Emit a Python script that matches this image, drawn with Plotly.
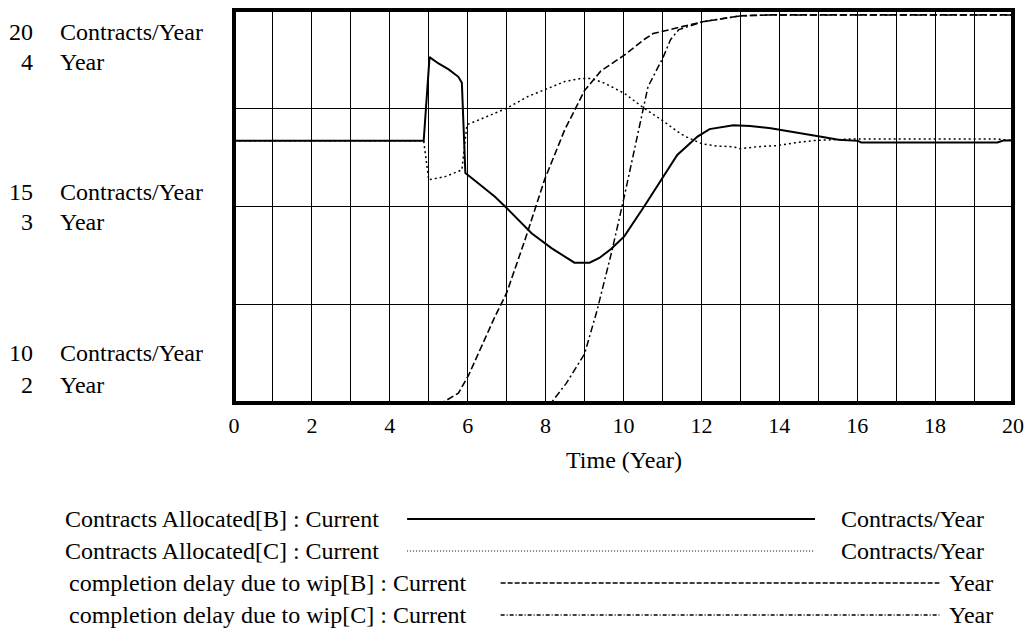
import plotly.graph_objects as go

# ---------------- data ----------------
time_b = [0, 4.87, 5.02, 5.25, 5.51, 5.76, 5.85, 5.94, 6.27, 6.70, 7.0, 7.64, 8.15, 8.74,
          9.13, 9.38, 9.68, 10.02, 10.53, 10.96, 11.38, 11.9, 12.21, 12.82, 13.25, 13.78,
          14.3, 14.7, 15.04, 15.52, 16.02, 16.1, 19.6, 19.75, 20]
alloc_b = [16.67, 16.67, 18.80, 18.64, 18.49, 18.30, 18.15, 15.85, 15.59, 15.25, 14.96,
           14.32, 13.94, 13.57, 13.57, 13.69, 13.92, 14.24, 15.0, 15.68, 16.31, 16.78,
           16.97, 17.07, 17.05, 16.99, 16.91, 16.84, 16.78, 16.70, 16.67, 16.63, 16.63,
           16.68, 16.68]

time_c = [0, 4.87, 5.0, 5.42, 5.85, 5.98, 6.28, 7.0, 7.55, 7.98, 8.49, 8.91, 9.17, 9.51,
          10.02, 10.53, 11.04, 11.38, 11.59, 12.03, 12.38, 12.82, 12.99, 13.43, 13.95,
          14.4, 14.9, 15.88, 19.6, 19.8, 20]
alloc_c = [16.67, 16.67, 15.68, 15.76, 15.93, 17.08, 17.20, 17.50, 17.80, 17.97, 18.18,
           18.26, 18.26, 18.14, 17.88, 17.50, 17.16, 16.91, 16.78, 16.59, 16.54, 16.52,
           16.47, 16.52, 16.55, 16.62, 16.68, 16.72, 16.72, 16.69, 16.69]

time_wb = [5.0, 5.17, 5.42, 5.76, 6.02, 6.36, 6.70, 7.0, 7.47, 7.98, 8.49, 9.0, 9.42,
           10.02, 10.53, 10.76, 11.42, 12.03, 12.99, 13.78, 20]
delay_b = [1.98, 1.99, 2.01, 2.05, 2.14, 2.29, 2.44, 2.56, 2.83, 3.14, 3.39, 3.59, 3.69,
           3.77, 3.85, 3.88, 3.91, 3.94, 3.97, 3.975, 3.975]

time_wc = [8.0, 8.10, 8.53, 9.0, 9.32, 9.71, 10.03, 10.28, 10.63, 11.02, 11.21, 11.42,
           12.03, 12.99, 13.78, 20]
delay_c = [1.97, 1.99, 2.10, 2.25, 2.47, 2.78, 3.06, 3.29, 3.61, 3.76, 3.85, 3.90, 3.94,
           3.97, 3.975, 3.975]

x_tick_vals = [0, 2, 4, 6, 8, 10, 12, 14, 16, 18, 20]
x_tick_text = ["0", "2", "4", "6", "8", "10", "12", "14", "16", "18", "20"]

left_numbers = [("20", "Contracts/Year"), ("4", "Year"),
                ("15", "Contracts/Year"), ("3", "Year"),
                ("10", "Contracts/Year"), ("2", "Year")]

legend_names = ["Contracts Allocated[B] : Current",
                "Contracts Allocated[C] : Current",
                "completion delay due to wip[B] : Current",
                "completion delay due to wip[C] : Current"]
legend_units = ["Contracts/Year", "Contracts/Year", "Year", "Year"]

# ---------------- layout geometry ----------------
W, H = 1034, 643
L, R, T, B = 234, 17, 10, 240
PW, PH = W - L - R, H - T - B

def px(x):
    return (x - L) / PW

def py(y):
    return (H - B - y) / PH

FONT = "Liberation Serif"
FS = 24
DASH = "7px,3px"
DASHDOT = "7px,3px,2px,3px"
DOT = "2px,3px"

fig = go.Figure()
fig.add_trace(go.Scatter(x=time_b, y=alloc_b, mode="lines",
                         line=dict(color="black", width=2), yaxis="y"))
fig.add_trace(go.Scatter(x=time_c, y=alloc_c, mode="lines",
                         line=dict(color="black", width=1.5, dash=DOT), yaxis="y"))
fig.add_trace(go.Scatter(x=time_wb, y=delay_b, mode="lines",
                         line=dict(color="black", width=1.6, dash=DASH), yaxis="y2"))
fig.add_trace(go.Scatter(x=time_wc, y=delay_c, mode="lines",
                         line=dict(color="black", width=1.5, dash=DASHDOT), yaxis="y2"))

annotations = []
# left axis labels
label_rows = [32, 62, 192, 222, 353, 385]
for (num, unit), yy in zip(left_numbers, label_rows):
    annotations.append(dict(x=px(34), y=py(yy), xref="paper", yref="paper", text=num,
                            showarrow=False, xanchor="right", yanchor="middle",
                            font=dict(family=FONT, size=FS, color="black")))
    annotations.append(dict(x=px(57), y=py(yy), xref="paper", yref="paper", text=unit,
                            showarrow=False, xanchor="left", yanchor="middle",
                            font=dict(family=FONT, size=FS, color="black")))

# x axis title
annotations.append(dict(x=0.5, y=py(460), xref="paper", yref="paper", text="Time (Year)",
                        showarrow=False, xanchor="center", yanchor="middle",
                        font=dict(family=FONT, size=FS, color="black")))

# legend rows
rows_y = [519, 551, 583, 615]
name_centers = [221.5, 221.5, 268.5, 268.5]
unit_centers = [916, 916, 975, 975]
line_spans = [(408, 818), (408, 817), (502, 943), (502, 943)]
line_styles = [dict(color="black", width=2),
               dict(color="black", width=1, dash="1px,2px"),
               dict(color="black", width=1.3, dash="5px,2px"),
               dict(color="black", width=1.3, dash="4px,2px,1px,2px")]
shapes = []
for i in range(4):
    annotations.append(dict(x=px(name_centers[i]), y=py(rows_y[i]), xref="paper", yref="paper",
                            text=legend_names[i], showarrow=False, xanchor="center",
                            yanchor="middle", font=dict(family=FONT, size=FS, color="black")))
    annotations.append(dict(x=px(unit_centers[i]), y=py(rows_y[i]), xref="paper", yref="paper",
                            text=legend_units[i], showarrow=False, xanchor="center",
                            yanchor="middle", font=dict(family=FONT, size=FS, color="black")))
    x0, x1 = line_spans[i]
    shapes.append(dict(type="line", xref="paper", yref="paper", x0=px(x0), x1=px(x1),
                       y0=py(rows_y[i]), y1=py(rows_y[i]), line=line_styles[i]))

# thick frame
shapes.append(dict(type="rect", xref="paper", yref="paper", x0=0, x1=1, y0=0, y1=1,
                   line=dict(color="black", width=4), layer="above"))

fig.update_layout(
    width=W, height=H,
    margin=dict(l=L, r=R, t=T, b=B, pad=0),
    paper_bgcolor="white", plot_bgcolor="white",
    showlegend=False,
    font=dict(family=FONT, color="black"),
    xaxis=dict(range=[0, 20], tickvals=x_tick_vals, ticktext=x_tick_text,
               showgrid=True, gridcolor="black", gridwidth=1, zeroline=False,
               showline=False, ticks="", ticklabelstandoff=7,
               tickfont=dict(family=FONT, size=22, color="black"),
               minor=dict(dtick=1, tick0=0, showgrid=True, gridcolor="black", gridwidth=1)),
    yaxis=dict(range=[10, 20], tickvals=[12.5, 15, 17.5], showticklabels=False,
               showgrid=True, gridcolor="black", gridwidth=1, zeroline=False, ticks=""),
    yaxis2=dict(range=[2, 4], overlaying="y", showgrid=False, showticklabels=False,
                zeroline=False, ticks="", visible=False),
    annotations=annotations,
    shapes=shapes,
)

fig.write_html("out.html", config={"displayModeBar": False},
               post_script="document.body.style.margin='0';document.body.style.overflow='hidden';")
